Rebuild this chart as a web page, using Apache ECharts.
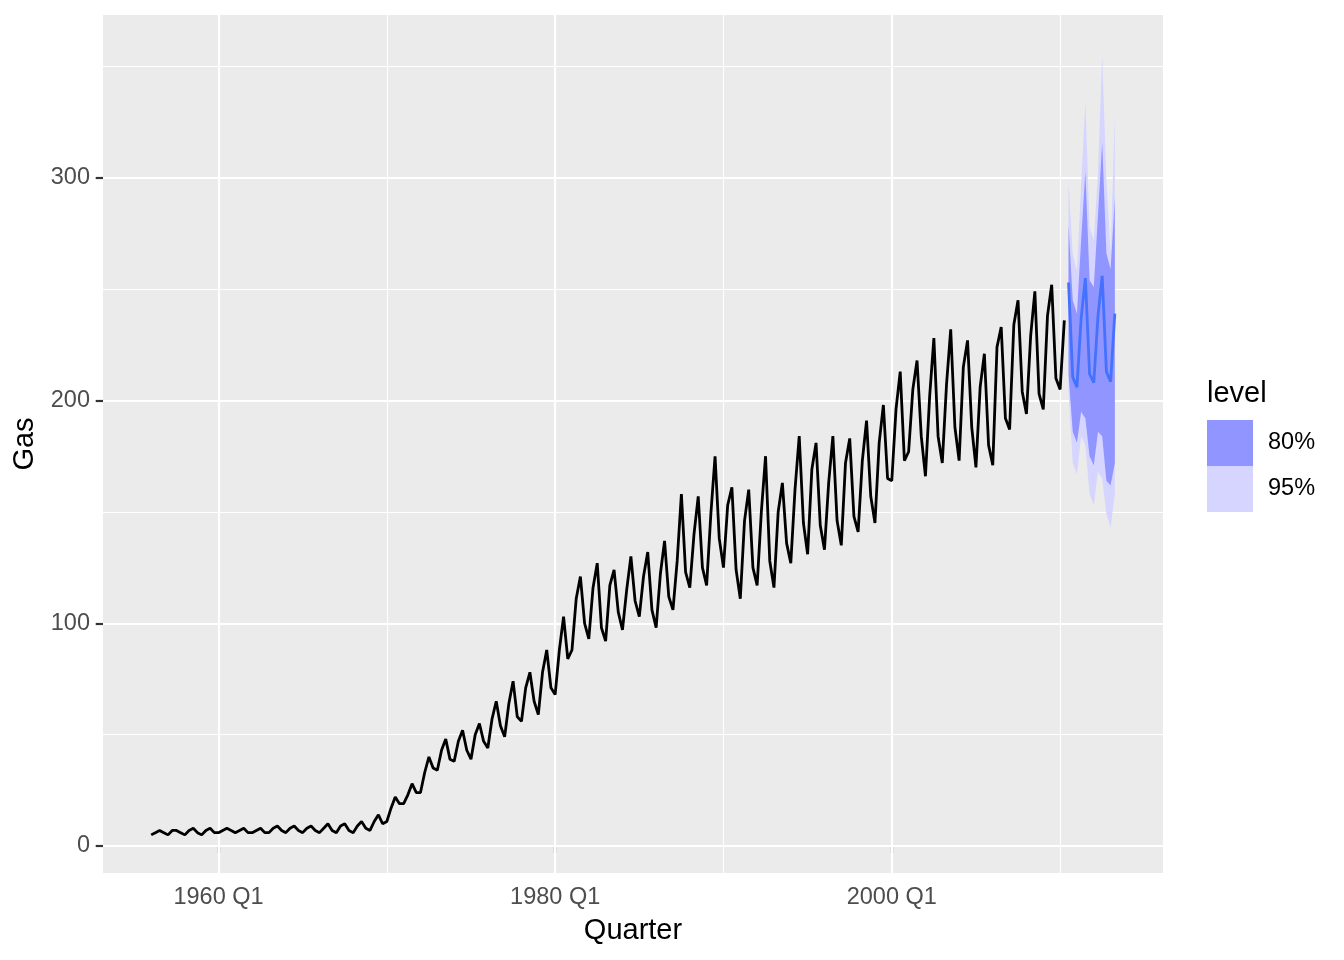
<!DOCTYPE html>
<html>
<head>
<meta charset="utf-8">
<script src="https://cdn.jsdelivr.net/npm/echarts@6/dist/echarts.min.js"></script>
<style>
html,body{margin:0;padding:0;background:#fff;}
#chart{width:1344px;height:960px;}
</style>
</head>
<body>
<div id="chart"></div>
<script>
// Quarterly gas production, 1956 Q1 .. 2010 Q2
const startYear = 1956;
const gas = [
  5, 6, 7, 6,     5, 7, 7, 6,     5, 7, 8, 6,     5, 7, 8, 6,
  6, 7, 8, 7,     6, 7, 8, 6,     6, 7, 8, 6,     6, 8, 9, 7,
  6, 8, 9, 7,     6, 8, 9, 7,     6, 8, 10, 7,    6, 9, 10, 7,
  6, 9, 11, 8,    7, 11, 14, 10,  11, 17, 22, 19, 19, 23, 28, 24,
  24, 33, 40, 35, 34, 43, 48, 39, 38, 47, 52, 43, 39, 50, 55, 47,
  44, 57, 65, 54, 49, 64, 74, 58, 56, 71, 78, 65, 59, 78, 88, 71,
  68, 88, 103, 84, 88, 111, 121, 100, 93, 116, 127, 98, 92, 117, 124, 105,
  97, 115, 130, 110, 103, 121, 132, 106, 98, 122, 137, 112, 106, 128, 158, 123,
  116, 140, 157, 125, 117, 149, 175, 138, 125, 153, 161, 124, 111, 146, 160, 125,
  117, 150, 175, 128, 116, 150, 163, 136, 127, 160, 184, 145, 131, 169, 181, 144,
  133, 163, 184, 146, 135, 172, 183, 148, 141, 173, 191, 157, 145, 181, 198, 165,
  164, 196, 213, 173, 177, 205, 218, 184, 166, 202, 228, 184, 172, 207, 232, 188,
  173, 215, 227, 188, 170, 206, 221, 180, 171, 224, 233, 192, 187, 234, 245, 204,
  194, 229, 249, 203, 196, 238, 252, 210, 205, 236
];

// Forecast 2010 Q3 .. 2013 Q2
const fcStart = 2010.5;
const fcMean = [253, 210.5, 206, 237, 255, 212, 208, 238, 256, 213, 208.5, 239];
const lo80   = [212, 186, 181, 195, 192, 175, 171, 186, 184, 164, 162, 172];
const hi80   = [279, 245, 239, 272, 303, 254, 251, 283, 316, 266, 259, 291];
const lo95   = [204, 172, 167, 184, 180, 158, 153, 168, 165, 149, 143, 158];
const hi95   = [298, 266, 258, 297, 334, 278, 272, 302, 355, 299, 266, 328];

// Axis ticks and grid lines
const xMajor = [1960, 1980, 2000];
const xMinor = [1970, 1990, 2010];
const yMajor = [0, 100, 200, 300];
const yMinor = [50, 150, 250, 350];
const levels = ['80%', '95%'];

const FONT = '"Liberation Sans", Arial, Helvetica, sans-serif';

const actualData = gas.map((v, i) => [startYear + i / 4, v]);
const fcData = fcMean.map((v, i) => [fcStart + i / 4, v]);

function band(name, lo, hi, color, z) {
  return {
    type: 'custom',
    name: name,
    coordinateSystem: 'cartesian2d',
    silent: true,
    clip: true,
    z: z,
    itemStyle: { color: color },
    data: [[fcStart, lo[0]]],
    renderItem: function (params, api) {
      const pts = [];
      for (let i = 0; i < hi.length; i++) pts.push(api.coord([fcStart + i / 4, hi[i]]));
      for (let i = lo.length - 1; i >= 0; i--) pts.push(api.coord([fcStart + i / 4, lo[i]]));
      return { type: 'polygon', shape: { points: pts }, style: { fill: color } };
    }
  };
}

const chart = echarts.init(document.getElementById('chart'), null, { renderer: 'canvas' });
chart.setOption({
  animation: false,
  backgroundColor: '#ffffff',
  textStyle: { fontFamily: FONT },
  grid: {
    left: 103, top: 15, width: 1060, height: 858,
    show: true, backgroundColor: '#EBEBEB', borderWidth: 0
  },
  xAxis: {
    type: 'value',
    min: 1953.1375, max: 2016.1125,
    name: 'Quarter', nameLocation: 'middle', nameGap: 43,
    nameTextStyle: { color: '#000', fontSize: 29, fontFamily: FONT },
    axisLine: { show: false },
    splitLine: { show: false },
    axisTick: { show: true, length: 7.3, customValues: xMajor, lineStyle: { color: '#333', width: 2.2 } },
    axisLabel: { customValues: xMajor, margin: 13, color: '#4D4D4D', fontSize: 23.5, fontFamily: FONT,
      formatter: function (v) { return v + ' Q1'; } }
  },
  yAxis: {
    type: 'value',
    min: -12.12, max: 373.1,
    name: 'Gas', nameLocation: 'middle', nameGap: 55, nameRotate: 90,
    nameTextStyle: { color: '#000', fontSize: 29, fontFamily: FONT },
    axisLine: { show: false },
    splitLine: { show: false },
    axisTick: { show: true, length: 7.3, customValues: yMajor, lineStyle: { color: '#333', width: 2.2 } },
    axisLabel: { customValues: yMajor, margin: 13, color: '#4D4D4D', fontSize: 23.5, fontFamily: FONT }
  },
  legend: {
    data: levels,
    orient: 'vertical',
    left: 1207, top: 420,
    padding: 0,
    itemGap: 0,
    itemWidth: 46, itemHeight: 46,
    icon: 'rect',
    selectedMode: false,
    textStyle: { fontSize: 23.5, color: '#000', fontFamily: FONT, padding: [4, 0, 0, 10] }
  },
  graphic: [{
    type: 'text', left: 1207, top: 379,
    style: { text: 'level', fontSize: 29, fill: '#000', fontFamily: FONT }
  }],
  series: [
    {
      type: 'line', data: [], z: 1, silent: true,
      markLine: {
        silent: true, symbol: 'none', label: { show: false }, animation: false, z: 1,
        lineStyle: { color: '#ffffff', width: 1.1, type: 'solid' },
        data: xMinor.map(v => ({ xAxis: v })).concat(yMinor.map(v => ({ yAxis: v })))
      }
    },
    {
      type: 'line', data: [], z: 1, silent: true,
      markLine: {
        silent: true, symbol: 'none', label: { show: false }, animation: false, z: 1,
        lineStyle: { color: '#ffffff', width: 2.2, type: 'solid' },
        data: xMajor.map(v => ({ xAxis: v })).concat(yMajor.map(v => ({ yAxis: v })))
      }
    },
    band('95%', lo95, hi95, '#D5D5FF', 10),
    band('80%', lo80, hi80, '#9095FF', 11),
    {
      type: 'line', name: 'Gas', data: actualData, z: 12, silent: true,
      showSymbol: false, symbol: 'none',
      lineStyle: { color: '#000000', width: 2.8 }, itemStyle: { color: '#000' }
    },
    {
      type: 'line', name: 'forecast', data: fcData, z: 13, silent: true,
      showSymbol: false, symbol: 'none',
      lineStyle: { color: '#4472FF', width: 2.8 }, itemStyle: { color: '#4472FF' }
    }
  ]
});
</script>
</body>
</html>
